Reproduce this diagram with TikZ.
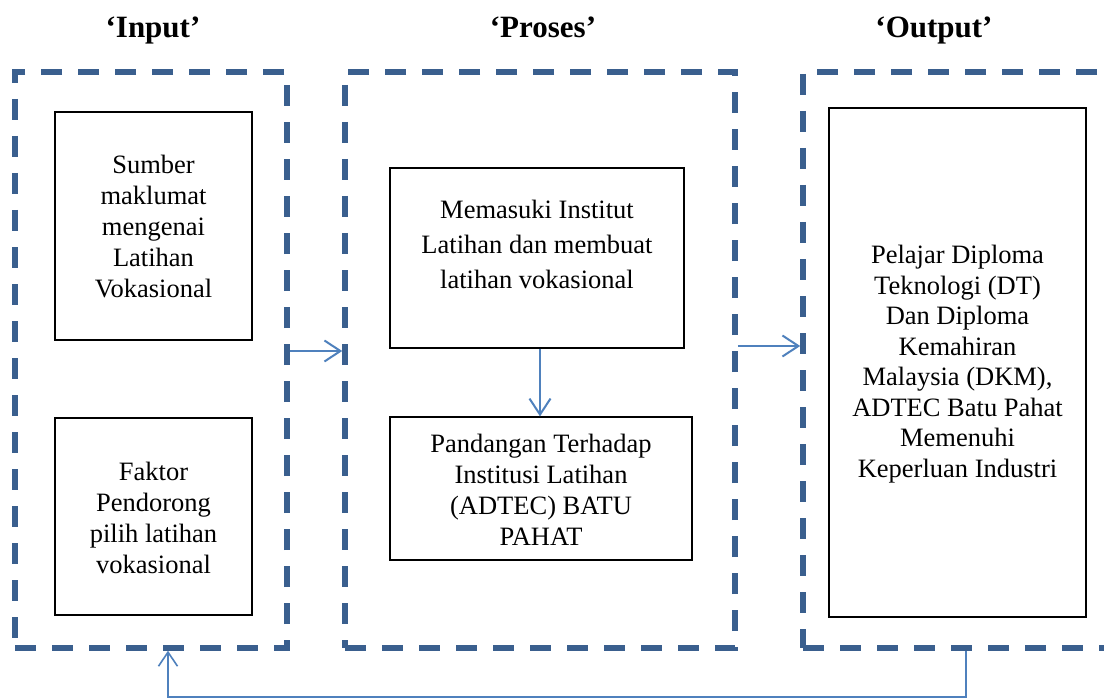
\documentclass[tikz,border=0pt]{standalone}
\usepackage{fontspec}
\setmainfont{Liberation Serif}
\usetikzlibrary{arrows.meta}
\definecolor{dashblue}{HTML}{3A5F8E}
\definecolor{arrblue}{HTML}{4F81BD}
\tikzset{
  groupbox/.style={draw=dashblue, line width=5.5pt, dash pattern=on 21pt off 16pt, rectangle, inner sep=0pt},
  itembox/.style={draw=black, line width=1.2pt, rectangle, inner sep=0pt},
  itemtext/.style={align=center, font=\fontsize{26.5}{31}\selectfont, inner sep=0pt},
  title/.style={font=\fontsize{31}{34}\selectfont\bfseries, inner sep=0pt, anchor=base},
  flow/.style={draw=arrblue, line width=2pt, -{Straight Barb[length=16pt,width=21pt,line width=2pt]}},
  fback/.style={draw=arrblue, line width=1.6pt, -{Straight Barb[length=14pt,width=19pt,line width=1.6pt]}},
}
\begin{document}
\begin{tikzpicture}[x=1pt,y=-1pt]
\useasboundingbox (0,0) rectangle (1104,698);
\clip (0,0) rectangle (1104,698);
\fill[white] (0,0) rectangle (1104,698);
% titles
\node[title] (tin) at (153,38) {‘Input’};
\node[title] (tpr) at (543,38) {‘Proses’};
\node[title] (tou) at (934,38) {‘Output’};
% group boxes
\node[groupbox, minimum width=272pt, minimum height=576pt] (gin) at (151,360) {};
\node[groupbox, minimum width=390pt, minimum height=576pt] (gpr) at (540,360) {};
\node[groupbox, minimum width=340pt, minimum height=576pt] (gou) at (973,360) {};
% item boxes
\node[itembox, minimum width=197pt, minimum height=228pt] (b1) at (153.5,226) {};
\node[itemtext] at (153.5,227) {Sumber\\maklumat\\mengenai\\Latihan\\Vokasional};
\node[itembox, minimum width=197pt, minimum height=197pt] (b2) at (153.5,516.5) {};
\node[itemtext] at (153.5,518) {Faktor\\Pendorong\\pilih latihan\\vokasional};
\node[itembox, minimum width=294pt, minimum height=180pt] (b3) at (537,258) {};
\node[itemtext, font=\fontsize{26.5}{35}\selectfont] at (537,244) {Memasuki Institut\\Latihan dan membuat\\latihan vokasional};
\node[itembox, minimum width=302pt, minimum height=143pt] (b4) at (541,488.5) {};
\node[itemtext] at (541,490) {Pandangan Terhadap\\Institusi Latihan\\(ADTEC) BATU\\PAHAT};
\node[itembox, minimum width=257pt, minimum height=509pt] (b5) at (957.5,362.5) {};
\node[itemtext, font=\fontsize{26.5}{30.5}\selectfont] at (957.5,364) {Pelajar Diploma\\Teknologi (DT)\\Dan Diploma\\Kemahiran\\Malaysia (DKM),\\ADTEC Batu Pahat\\Memenuhi\\Keperluan Industri};
% arrows
\draw[flow] (gin.east |- 0,351) -- (gpr.west |- 0,351);
\draw[flow] (gpr.east |- 0,346) -- (gou.west |- 0,346);
\draw[flow] (b3.south -| 540,0) -- (b4.north -| 540,0);
\coordinate (fb1) at (966,697);
\coordinate (fb2) at (168,697);
\draw[fback] (gou.south -| fb1) -- (fb1) -- (fb2) -- (gin.south -| fb2);
\end{tikzpicture}
\end{document}
